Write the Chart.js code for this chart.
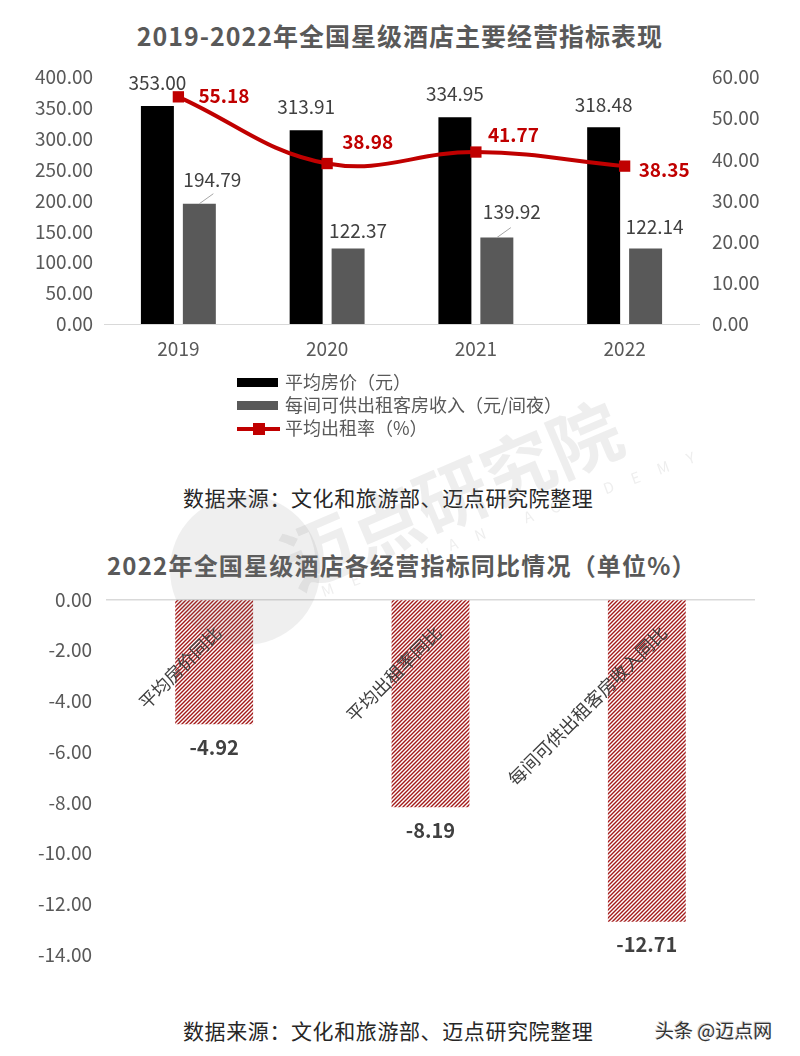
<!DOCTYPE html>
<html>
<head>
<meta charset="utf-8">
<script src="https://cdn.jsdelivr.net/npm/chart.js@4"></script>
<style>
  body { margin: 0; background: #fff; }
  #page { position: relative; width: 800px; height: 1056px; overflow: hidden; background: #fff;
    font-family: "Noto Sans CJK SC", "Noto Sans", sans-serif; text-spacing-trim: space-all; }
  .abs { position: absolute; white-space: nowrap; }
  .title { font-weight: bold; color: #595959; font-size: 25px; line-height: 36px; letter-spacing: 1px; }
  .src { color: #262626; font-size: 21px; line-height: 30px; letter-spacing: 0.6px; }
  .leg { color: #595959; font-size: 18px; line-height: 23px; left: 237px; }
  .leg span.box { display: inline-block; width: 41px; height: 9px; vertical-align: middle; margin-right: 7px; margin-top: -3px; }
  .leg span.ln { display: inline-block; position: relative; width: 43px; height: 4px; background: #c00000; vertical-align: middle; margin-right: 5px; margin-top: -3px; }
  .leg span.ln i { position: absolute; left: 16px; top: -4px; width: 12px; height: 12px; background: #c00000; }
  canvas { position: absolute; left: 0; top: 0; }
  .wm { color: rgba(120,120,120,0.13); pointer-events: none; }
</style>
</head>
<body>
<div id="page">
  <div class="abs title" style="left:0;width:800px;text-align:center;top:17px;">2019-2022年全国星级酒店主要经营指标表现</div>
  <div style="position:absolute;left:0;top:50px;width:800px;height:320px;"><canvas id="c1" width="800" height="320"></canvas></div>
  <div id="legend" class="abs leg" style="top:370px;"></div>
  <div class="abs src" style="left:183px;top:482px;">数据来源：文化和旅游部、迈点研究院整理</div>

  <div class="abs title" style="left:107px;top:547px;font-size:24px;letter-spacing:1.2px;">2022年全国星级酒店各经营指标同比情况（单位%）</div>
  <div style="position:absolute;left:0;top:574px;width:800px;height:406px;"><canvas id="c2" width="800" height="406"></canvas></div>
  <div class="abs src" style="left:183px;top:1015px;">数据来源：文化和旅游部、迈点研究院整理</div>
  <div class="abs" style="left:655px;top:1017px;font-size:19px;line-height:26px;color:#333;text-shadow:1px 1px 0 #fff,-1px -1px 0 #ccc;">头条 @迈点网</div>

  <!-- watermark -->
  <div class="abs wm" style="left:170px;top:495px;width:150px;height:150px;border-radius:50%;background:rgba(120,120,120,0.12);"></div>
  <div class="abs wm" style="left:305px;top:505px;font-size:72px;font-weight:bold;transform:rotate(-23deg);transform-origin:left bottom;">迈点研究院</div>
  <div class="abs wm" style="left:325px;top:580px;font-size:15px;letter-spacing:19px;transform:rotate(-20deg);transform-origin:left bottom;">MEIDIAN ACADEMY</div>
</div>
<script>
// --- DATA ---
const years = ["2019", "2020", "2021", "2022"];
const avgPrice = [353.0, 313.91, 334.95, 318.48];
const revpar = [194.79, 122.37, 139.92, 122.14];
const occupancy = [55.18, 38.98, 41.77, 38.35];
const seriesNames = ["平均房价（元）", "每间可供出租客房收入（元/间夜）", "平均出租率（%）"];

const yoyLabels = ["平均房价同比", "平均出租率同比", "每间可供出租客房收入同比"];
const yoyValues = [-4.92, -8.19, -12.71];

Chart.defaults.font.family = '"Noto Sans CJK SC", "Noto Sans", sans-serif';
Chart.defaults.color = "#595959";

// --- legend (html) ---
const legendEl = document.getElementById("legend");
legendEl.innerHTML =
  `<div><span class="box" style="background:#000"></span>${seriesNames[0]}</div>` +
  `<div><span class="box" style="background:#595959"></span>${seriesNames[1]}</div>` +
  `<div><span class="ln"><i></i></span>${seriesNames[2]}</div>`;

// --- chart 1 labels ---
const labels1 = {
  id: "labels1",
  afterDatasetsDraw(chart, args, opts) {
    const ctx = chart.ctx;
    ctx.save();
    ctx.textBaseline = "middle";
    // black bars
    ctx.font = '19px "Noto Sans CJK SC"';
    ctx.fillStyle = "#404040";
    ctx.textAlign = "center";
    chart.getDatasetMeta(0).data.forEach((el, i) => {
      ctx.fillText(avgPrice[i].toFixed(2), el.x, el.y - 23);
    });
    // gray bars
    chart.getDatasetMeta(1).data.forEach((el, i) => {
      const o = opts.grayOff[i];
      ctx.fillStyle = "#404040";
      ctx.fillText(revpar[i].toFixed(2), el.x + o[0], el.y + o[1]);
      if (opts.leader[i]) {
        ctx.strokeStyle = "#a6a6a6";
        ctx.lineWidth = 1;
        ctx.beginPath();
        ctx.moveTo(el.x, el.y);
        ctx.lineTo(el.x + 14, el.y - 10);
        ctx.stroke();
      }
    });
    // line labels
    ctx.font = 'bold 19px "Noto Sans CJK SC"';
    ctx.fillStyle = "#c00000";
    ctx.textAlign = "left";
    chart.getDatasetMeta(2).data.forEach((el, i) => {
      const o = opts.lineOff[i];
      ctx.fillText(occupancy[i].toFixed(2), el.x + o[0], el.y + o[1]);
    });
    ctx.restore();
  },
};

new Chart(document.getElementById("c1"), {
  type: "bar",
  data: {
    labels: years,
    datasets: [
      { label: seriesNames[0], data: avgPrice, backgroundColor: "#000000", yAxisID: "y", order: 1 },
      { label: seriesNames[1], data: revpar, backgroundColor: "#595959", yAxisID: "y", order: 1 },
      {
        type: "line", label: seriesNames[2], data: occupancy, yAxisID: "y1", order: 0,
        borderColor: "#c00000", borderWidth: 4, tension: 0.4,
        pointStyle: "rect", pointRadius: 8, pointBackgroundColor: "#c00000", pointBorderWidth: 0,
      },
    ],
  },
  options: {
    responsive: false,
    animation: false,
    events: [],
    categoryPercentage: 0.564,
    barPercentage: 0.786,
    layout: { padding: { top: 27, bottom: 0, left: 0, right: 0 } },
    plugins: {
      legend: { display: false },
      tooltip: { enabled: false },
      labels1: {
        grayOff: [[13, -24], [10, -18], [15, -26], [9, -22]],
        leader: [true, false, true, false],
        lineOff: [[20, -1], [15, -22], [12, -17], [14, 4]],
      },
    },
    scales: {
      x: {
        grid: { display: false, drawTicks: false },
        border: { display: true, color: "#d9d9d9", width: 1 },
        ticks: { font: { size: 19 }, padding: 13, color: "#595959" },
        afterFit: (s) => { s.height = 46; },
      },
      y: {
        position: "left", min: 0, max: 400,
        grid: { display: false, drawTicks: false },
        border: { display: false },
        ticks: { stepSize: 50, padding: 11, font: { size: 19 }, callback: (v) => v.toFixed(2) },
        afterFit: (s) => { s.width = 104; },
      },
      y1: {
        position: "right", min: 0, max: 60,
        grid: { display: false, drawTicks: false },
        border: { display: false },
        ticks: { stepSize: 10, padding: 13, font: { size: 19 }, callback: (v) => v.toFixed(2) },
        afterFit: (s) => { s.width = 101; },
      },
    },
  },
  plugins: [labels1],
});

// --- chart 2 ---
const c2 = document.getElementById("c2");
function hatchPattern(ctx) {
  const t = document.createElement("canvas");
  t.width = 4;
  t.height = 4;
  const g = t.getContext("2d");
  g.fillStyle = "#ffffff";
  g.fillRect(0, 0, 4, 4);
  g.strokeStyle = "#a31a1a";
  g.lineWidth = 1.4;
  g.beginPath();
  g.moveTo(-1, 5); g.lineTo(5, -1);
  g.moveTo(-1, 1); g.lineTo(1, -1);
  g.moveTo(3, 5); g.lineTo(5, 3);
  g.stroke();
  return ctx.createPattern(t, "repeat");
}

const labels2 = {
  id: "labels2",
  afterDatasetsDraw(chart, args, opts) {
    const ctx = chart.ctx;
    const zeroY = chart.scales.y.getPixelForValue(0);
    ctx.save();
    chart.getDatasetMeta(0).data.forEach((el, i) => {
      // value under bar
      ctx.font = 'bold 20px "Noto Sans CJK SC"';
      ctx.fillStyle = "#404040";
      ctx.textAlign = "center";
      ctx.textBaseline = "middle";
      ctx.fillText(yoyValues[i].toFixed(2), el.x, el.y + 23);
      // rotated category name
      ctx.save();
      ctx.translate(el.x + opts.catDx[i], zeroY + 30);
      ctx.rotate(-Math.PI / 4);
      ctx.font = '18px "Noto Sans CJK SC"';
      ctx.fillStyle = "#404040";
      ctx.textAlign = "right";
      ctx.fillText(yoyLabels[i], 0, 0);
      ctx.restore();
    });
    ctx.restore();
  },
};

new Chart(c2, {
  type: "bar",
  data: {
    labels: yoyLabels,
    datasets: [{ data: yoyValues, backgroundColor: hatchPattern(c2.getContext("2d")), borderWidth: 0 }],
  },
  options: {
    responsive: false,
    animation: false,
    events: [],
    categoryPercentage: 1,
    barPercentage: 0.36,
    layout: { padding: { top: 13, bottom: 25, left: 0, right: 45 } },
    plugins: { legend: { display: false }, tooltip: { enabled: false }, labels2: { catDx: [4, 8, 17] } },
    scales: {
      x: { display: false },
      y: {
        min: -14, max: 0,
        grid: { drawTicks: false, color: (c) => (c.tick.value === 0 ? "#d9d9d9" : "rgba(0,0,0,0)"), lineWidth: 1.5 },
        border: { display: false },
        ticks: { stepSize: 2, padding: 14, font: { size: 19 }, callback: (v) => v.toFixed(2) },
        afterFit: (s) => { s.width = 106; },
      },
    },
  },
  plugins: [labels2],
});
</script>
</body>
</html>
